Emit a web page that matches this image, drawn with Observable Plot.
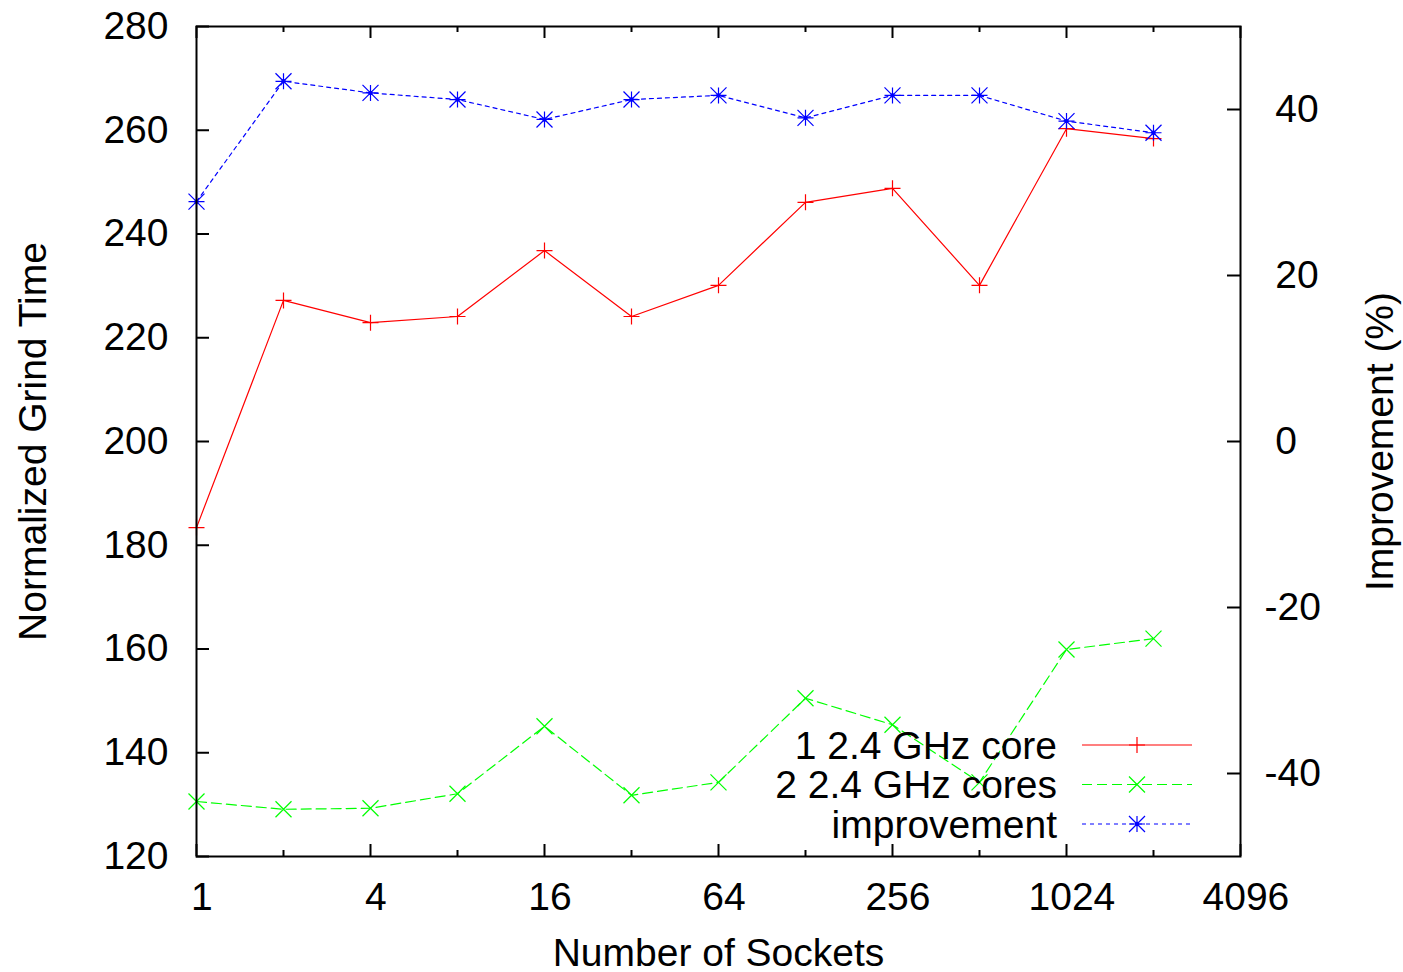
<!DOCTYPE html>
<html>
<head>
<meta charset="utf-8">
<script src="https://cdn.jsdelivr.net/npm/d3@7"></script>
<script src="https://cdn.jsdelivr.net/npm/@observablehq/plot@0.6"></script>
<style>
  html, body { margin: 0; padding: 0; background: white; }
  #chart svg { display: block; }
</style>
</head>
<body>
<div id="chart"></div>
<script>
// ---- data ----
const sockets = [1, 2, 4, 8, 16, 32, 64, 128, 256, 512, 1024, 2048];
const oneCore = [183.4, 227.2, 222.9, 224.1, 236.8, 224.1, 230.1, 246.1, 248.8, 230.1, 260.3, 258.4];
const twoCores = [130.6, 129.1, 129.3, 132.1, 145.1, 131.8, 134.3, 150.5, 145.4, 134.3, 159.9, 162.0];
const improvement = [28.9, 43.4, 42.0, 41.2, 38.8, 41.2, 41.7, 39.0, 41.7, 41.7, 38.6, 37.2];
const seriesNames = ["1 2.4 GHz core", "2 2.4 GHz cores", "improvement"];
const seriesColors = ["#ff0000", "#00ff00", "#0000ff"];
const xTicks = [1, 4, 16, 64, 256, 1024, 4096];
const xMinorTicks = [2, 8, 32, 128, 512, 2048];
const yTicks = [120, 140, 160, 180, 200, 220, 240, 260, 280];
const y2Ticks = [-40, -20, 0, 20, 40];
const xDomain = [1, 4096];
const yDomain = [120, 280];
const y2Domain = [-50, 50];
const xTitle = "Number of Sockets";
const yTitle = "Normalized Grind Time";
const y2Title = "Improvement (%)";

// ---- layout ----
const W = 1403, H = 972;
const mL = 196, mR = 163, mT = 26, mB = 116;
const plotW = W - mL - mR, plotH = H - mT - mB;
const FONT = "'Liberation Sans', Arial, Helvetica, sans-serif";
const FS = 39;

// map right-axis values onto the left y scale's domain
const y2toy = d3.scaleLinear(y2Domain, yDomain);
const ytoy2 = y2toy.invert;

const fmt = d => (d >= 0 ? "\u00A0" : "") + d;

const rowsA = sockets.map((s, i) => ({s, v: oneCore[i]}));
const rowsB = sockets.map((s, i) => ({s, v: twoCores[i]}));
const rowsC = sockets.map((s, i) => ({s, v: y2toy(improvement[i])}));

// gnuplot-like point symbols
const R = 8;
const symPlus = {draw(c) { c.moveTo(-R, 0); c.lineTo(R, 0); c.moveTo(0, -R); c.lineTo(0, R); }};
const symTimes = {draw(c) { c.moveTo(-R, -R); c.lineTo(R, R); c.moveTo(-R, R); c.lineTo(R, -R); }};
const symStar = {draw(c) { symPlus.draw(c); symTimes.draw(c); }};
const symbols = [symPlus, symTimes, symStar];
const dashes = [null, "10,5", "4,4"];
const tickStyle = {stroke: "black", strokeOpacity: 1, strokeWidth: 2};

const chart = Plot.plot({
  width: W, height: H,
  marginLeft: mL, marginRight: mR, marginTop: mT, marginBottom: mB,
  x: {type: "log", base: 2, domain: xDomain, axis: null, label: null},
  y: {domain: yDomain, axis: null, label: null},
  style: {fontFamily: FONT, fontSize: FS + "px", background: "white", color: "black", overflow: "visible"},
  marks: [
    // tick marks (inward, gnuplot style)
    Plot.gridX(xTicks, {...tickStyle, insetTop: plotH - 12}),
    Plot.gridX(xTicks, {...tickStyle, insetBottom: plotH - 12}),
    Plot.gridX(xMinorTicks, {...tickStyle, insetTop: plotH - 6}),
    Plot.gridX(xMinorTicks, {...tickStyle, insetBottom: plotH - 6}),
    Plot.gridY(yTicks, {...tickStyle, insetRight: plotW - 13}),
    Plot.gridY(y2Ticks.map(y2toy), {...tickStyle, insetLeft: plotW - 13}),
    // tick labels
    Plot.axisX({ticks: xTicks, tickSize: 0, tickPadding: 26, tickFormat: fmt, fontSize: FS, label: null}),
    Plot.axisY({ticks: yTicks, anchor: "left", tickSize: 0, tickPadding: 28, tickFormat: fmt, fontSize: FS, label: null}),
    Plot.axisY({ticks: y2Ticks.map(y2toy), anchor: "right", tickSize: 0, tickPadding: 24,
                tickFormat: d => fmt(Math.round(ytoy2(d))), fontSize: FS, label: null, textAnchor: "start"}),
    // axis titles
    Plot.text([xTitle], {text: d => d, frameAnchor: "bottom", dy: 97, lineAnchor: "middle", textAnchor: "middle", fontSize: FS}),
    Plot.text([yTitle], {text: d => d, frameAnchor: "left", dx: -163, rotate: -90, lineAnchor: "middle", textAnchor: "middle", fontSize: FS}),
    Plot.text([y2Title], {text: d => d, frameAnchor: "right", dx: 140, rotate: -90, lineAnchor: "middle", textAnchor: "middle", fontSize: FS}),
    // series
    Plot.line(rowsA, {x: "s", y: "v", stroke: seriesColors[0], strokeWidth: 1.2}),
    Plot.line(rowsB, {x: "s", y: "v", stroke: seriesColors[1], strokeWidth: 1.2, strokeDasharray: dashes[1]}),
    Plot.line(rowsC, {x: "s", y: "v", stroke: seriesColors[2], strokeWidth: 1.2, strokeDasharray: dashes[2]}),
    Plot.dot(rowsA, {x: "s", y: "v", symbol: symPlus, r: 4, fill: "none", stroke: seriesColors[0], strokeWidth: 1.2}),
    Plot.dot(rowsB, {x: "s", y: "v", symbol: symTimes, r: 4, fill: "none", stroke: seriesColors[1], strokeWidth: 1.2}),
    Plot.dot(rowsC, {x: "s", y: "v", symbol: symStar, r: 4, fill: "none", stroke: seriesColors[2], strokeWidth: 1.2}),
    Plot.dot(rowsC, {x: "s", y: "v", r: 2.2, fill: seriesColors[2], stroke: "none"}),
    Plot.frame({stroke: "black", strokeWidth: 2})
  ]
});
document.getElementById("chart").appendChild(chart);

// ---- legend (inside plot, bottom right, gnuplot style) ----
const svg = d3.select(chart);
const lg = svg.append("g").attr("font-family", FONT).attr("font-size", FS);
const textRight = 1057, lineX1 = 1082, lineX2 = 1192, markX = 1137;
const rowY0 = 745, rowStep = 39.5;
seriesNames.forEach((name, i) => {
  const y = rowY0 + i * rowStep;
  lg.append("text").attr("x", textRight).attr("y", y).attr("dy", "0.35em")
    .attr("text-anchor", "end").attr("fill", "black").text(name);
  const ln = lg.append("line").attr("x1", lineX1).attr("x2", lineX2).attr("y1", y).attr("y2", y)
    .attr("stroke", seriesColors[i]).attr("stroke-width", 1.2);
  if (dashes[i]) ln.attr("stroke-dasharray", dashes[i]);
  const p = d3.path();
  symbols[i].draw(p);
  lg.append("path").attr("d", p.toString()).attr("transform", `translate(${markX},${y})`)
    .attr("fill", "none").attr("stroke", seriesColors[i]).attr("stroke-width", 1.2);
  if (i === 2) lg.append("circle").attr("cx", markX).attr("cy", y).attr("r", 2.2).attr("fill", seriesColors[i]);
});
</script>
</body>
</html>
